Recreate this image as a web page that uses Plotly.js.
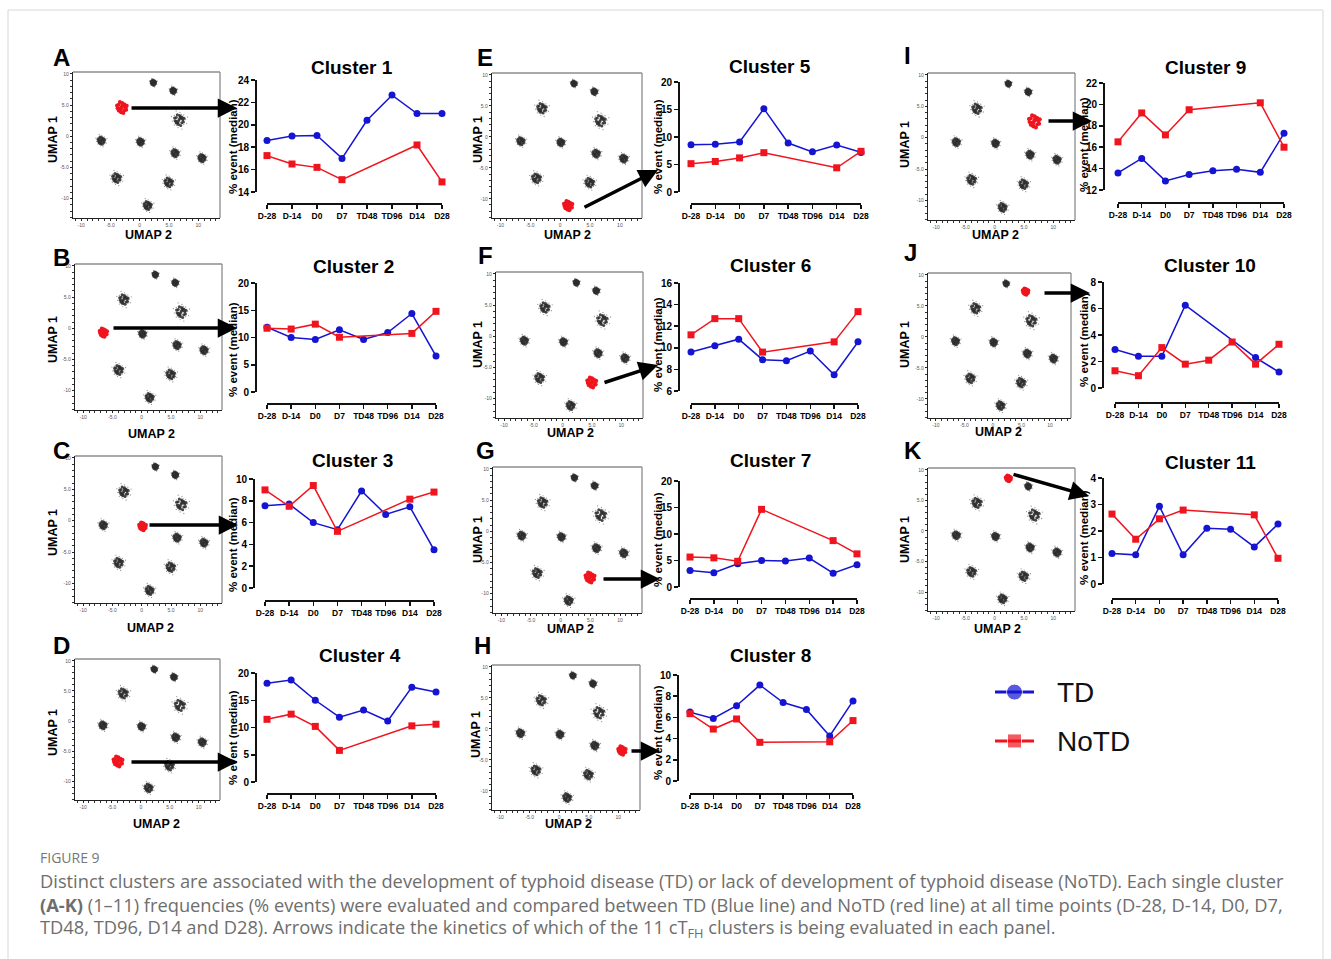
<!DOCTYPE html>
<html><head><meta charset="utf-8">
<script src="https://cdn.plot.ly/plotly-3.0.1.min.js"></script>
<style>html,body{margin:0;padding:0;background:#fff;}#chart{width:1331px;height:959px;}</style>
</head><body><div id="chart"></div>
<script>
// ---------------- DATA ----------------
const categories = ['D-28','D-14','D0','D7','TD48','TD96','D14','D28'];
const panelLetters = ['A','B','C','D','E','F','G','H','I','J','K'];
const clusterNames = ['Cluster 1','Cluster 2','Cluster 3','Cluster 4','Cluster 5','Cluster 6','Cluster 7','Cluster 8','Cluster 9','Cluster 10','Cluster 11'];
const seriesNames = ['TD','NoTD'];

// TD (blue) series, one per cluster
const tdC1  = [18.6, 19.0, 19.05, 17.0, 20.4, 22.65, 21.0, 21.0];
const tdC2  = [11.9, 10.0, 9.65, 11.4, 9.65, 10.9, 14.4, 6.6];
const tdC3  = [7.55, 7.7, 6.0, 5.35, 8.9, 6.75, 7.45, 3.5];
const tdC4  = [18.1, 18.7, 15.0, 11.9, 13.2, 11.2, 17.4, 16.5];
const tdC5  = [8.6, 8.7, 9.1, 15.15, 8.9, 7.3, 8.55, 7.2];
const tdC6  = [9.6, 10.2, 10.8, 8.9, 8.8, 9.7, 7.5, 10.55];
const tdC7  = [3.1, 2.7, 4.4, 5.0, 4.9, 5.45, 2.6, 4.2];
const tdC8  = [6.5, 5.9, 7.1, 9.05, 7.4, 6.75, 4.25, 7.55];
const tdC9  = [13.6, 14.95, 12.85, 13.45, 13.8, 13.95, 13.65, 17.3];
const tdC10 = [2.9, 2.4, 2.4, 6.25, null, null, 2.3, 1.2];
const tdC11 = [1.15, 1.1, 2.93, 1.1, 2.1, 2.07, 1.4, 2.26];

// NoTD (red) series, one per cluster
const notdC1  = [17.25, 16.5, 16.2, 15.1, null, null, 18.2, 14.9];
const notdC2  = [11.7, 11.55, 12.45, 10.05, null, null, 10.75, 14.8];
const notdC3  = [9.0, 7.5, 9.4, 5.2, null, null, 8.15, 8.8];
const notdC4  = [11.5, 12.45, 10.2, 5.8, null, null, 10.3, 10.6];
const notdC5  = [5.15, 5.55, 6.2, 7.15, null, null, 4.4, 7.4];
const notdC6  = [11.2, 12.7, 12.7, 9.6, null, null, 10.55, 13.35];
const notdC7  = [5.65, 5.5, 4.85, 14.65, null, null, 8.75, 6.25];
const notdC8  = [6.35, 4.9, 5.85, 3.65, null, null, 3.7, 5.7];
const notdC9  = [16.5, 19.2, 17.15, 19.5, null, null, 20.15, 16.0];
const notdC10 = [1.3, 0.93, 3.05, 1.8, 2.1, 3.47, 1.8, 3.3];
const notdC11 = [2.64, 1.69, 2.46, 2.79, null, null, 2.61, 0.97];

const tdSeries = [tdC1,tdC2,tdC3,tdC4,tdC5,tdC6,tdC7,tdC8,tdC9,tdC10,tdC11];
const notdSeries = [notdC1,notdC2,notdC3,notdC4,notdC5,notdC6,notdC7,notdC8,notdC9,notdC10,notdC11];

// y-axis tick labels of each cluster chart
const yTickMin  = [14, 0, 0, 0, 0, 6, 0, 0, 12, 0, 0];
const yTickMax  = [24, 20, 10, 20, 20, 16, 20, 10, 22, 8, 4];
const yTickStep = [2, 5, 2, 5, 5, 2, 5, 2, 2, 2, 1];

// UMAP: cluster island centres (UMAP 2, UMAP 1) and relative island sizes
const umapX = [2.3, 5.7, -3.1, 6.7, -6.6, 0.1, 6.0, 10.6, -4.0, 4.9, 1.3];
const umapY = [8.6, 7.3, 4.6, 2.6, -0.7, -0.9, -2.7, -3.5, -6.7, -7.4, -11.1];
const islandSize = [0.45, 0.5, 0.85, 0.95, 0.65, 0.6, 0.65, 0.65, 0.8, 0.78, 0.72];
// which island is highlighted for cluster 1..11
const clusterIsland = [2, 4, 5, 8, 10, 9, 9, 7, 3, 1, 0];
// island shape (offsets of dots inside an island)
const blobDx = [0, 0.45, -0.45, 0.25, -0.25, 0.7, -0.7, 0.1, -0.1, 0.5, -0.5, 0.5, -0.5, 0.9, -0.3, 0.3, 0.8, -0.8, 0.15, -0.15];
const blobDy = [0, 0.25, -0.2, 0.55, -0.55, 0.05, -0.1, 0.75, -0.75, 0.5, 0.45, -0.45, -0.5, 0.3, 0.9, -0.9, -0.35, 0.35, 0.3, -0.3];
const umapTicks = [-10, -5, 0, 5, 10];
const umapTickText = ['-10', '-5.0', '0', '5.0', '10'];

// ---------------- LAYOUT GEOMETRY (pixels) ----------------
const W = 1331, H = 959;
const px = x => x / W, py = y => 1 - y / H;
const geo = [
 {l:[62,57],  ub:[73,72,220,218],   u1:[53,140], u2:[148,235], yx:255, yt:80,  yb:192, xa:203, x0:267, x1:442, tt:[352,67],  yl:[233,147], ar:[130,108,237,108]},
 {l:[62,257], ub:[75,264,222,410],  u1:[53,340], u2:[151,434], yx:255, yt:283, yb:392, xa:403, x0:267, x1:436, tt:[353,266], yl:[233,350], ar:[112,328,237,328]},
 {l:[62,450], ub:[75,456,222,603],  u1:[53,533], u2:[150,628], yx:253, yt:479, yb:588, xa:600, x0:265, x1:434, tt:[352,461], yl:[233,545], ar:[148,525,238,525]},
 {l:[62,645], ub:[75,659,220,800],  u1:[53,733], u2:[156,824], yx:255, yt:673, yb:782, xa:793, x0:267, x1:436, tt:[360,655], yl:[233,738], ar:[130,762,237,762]},
 {l:[485,57], ub:[492,73,642,218],  u1:[478,140],u2:[567,235], yx:678, yt:82,  yb:192, xa:203, x0:691, x1:861, tt:[770,66],  yl:[658,147], ar:[583,208,658,170]},
 {l:[485,255],ub:[496,272,643,418], u1:[478,345],u2:[570,433], yx:678, yt:283, yb:391, xa:403, x0:691, x1:858, tt:[770,265], yl:[658,345], ar:[603,383,658,365]},
 {l:[485,450],ub:[493,467,642,613], u1:[478,540],u2:[570,629], yx:678, yt:481, yb:587, xa:598, x0:690, x1:857, tt:[770,461], yl:[658,540], ar:[602,579,660,579]},
 {l:[482,645],ub:[492,665,640,810], u1:[476,735],u2:[568,824], yx:677, yt:675, yb:781, xa:793, x0:690, x1:853, tt:[770,655], yl:[658,733], ar:[630,751,660,751]},
 {l:[907,55], ub:[928,73,1075,220], u1:[905,145],u2:[995,235], yx:1103,yt:83,  yb:190, xa:202, x0:1118,x1:1284,tt:[1205,67], yl:[1084,145], ar:[1047,121,1092,121]},
 {l:[910,252],ub:[928,273,1071,418],u1:[905,345],u2:[998,432], yx:1102,yt:282, yb:388, xa:402, x0:1115,x1:1279,tt:[1210,265],yl:[1084,340], ar:[1043,293,1090,293]},
 {l:[913,450],ub:[928,468,1075,611],u1:[905,540],u2:[997,629], yx:1102,yt:478, yb:584, xa:598, x0:1112,x1:1278,tt:[1210,462],yl:[1084,538], ar:[1012,474,1089,496]}
];
const legendPos = {x0:995, x1:1034, y:[692, 741], tx:1055};

const BLUE = '#1414d2', RED = '#f0141e';
const FONT = 'Liberation Sans, Arial, sans-serif';
const traces = [], annotations = [], shapes = [];
const layout = {
  width: W, height: H, margin:{l:0,r:0,t:0,b:0},
  paper_bgcolor:'#fff', plot_bgcolor:'rgba(0,0,0,0)', showlegend:false,
  font:{family:FONT, color:'#000'}
};

function range(a, b, s){ const r=[]; for(let v=a; v<=b+1e-9; v+=s) r.push(+v.toFixed(6)); return r; }

for (let i = 0; i < 11; i++) {
  const g = geo[i];
  const ua = 2*i + 1, ca = 2*i + 2;
  const uX = 'x'+ua, uY = 'y'+ua, cX = 'x'+ca, cY = 'y'+ca;

  // ---- UMAP islands ----
  const red = clusterIsland[i];
  const gx = [], gy = [], hx = [], hy = [], rx = [], ry = [];
  for (let k = 0; k < umapX.length; k++) {
    const s = islandSize[k];
    for (let j = 0; j < blobDx.length; j++) {
      if (k === red) {
        rx.push(umapX[k] + blobDx[j]*s*1.15); ry.push(umapY[k] + blobDy[j]*s*1.15);
      } else {
        gx.push(umapX[k] + blobDx[j]*s); gy.push(umapY[k] + blobDy[j]*s);
        hx.push(umapX[k] + blobDx[j]*s*1.7); hy.push(umapY[k] + blobDy[j]*s*1.7);
      }
    }
  }
  traces.push({type:'scatter', mode:'markers', x:hx, y:hy, xaxis:uX, yaxis:uY, hoverinfo:'skip',
    marker:{size:1.3, color:'#9a9a9a'}});
  traces.push({type:'scatter', mode:'markers', x:gx, y:gy, xaxis:uX, yaxis:uY, hoverinfo:'skip',
    marker:{size:3, color:'#2e2e2e', opacity:0.88}});
  traces.push({type:'scatter', mode:'markers', x:rx, y:ry, xaxis:uX, yaxis:uY, hoverinfo:'skip',
    marker:{size:4, color:RED}});

  const umapAx = {showgrid:false, zeroline:false, showline:true, linecolor:'#222', linewidth:1.2,
    ticks:'outside', ticklen:2, tickwidth:1, tickcolor:'#222', tickmode:'array', tickangle:0,
    tickvals:umapTicks, ticktext:umapTickText, tickfont:{size:5, color:'#555', family:FONT},
    minor:{tickmode:'linear', tick0:0, dtick:1, ticks:'outside', ticklen:2, tickcolor:'#333'}, fixedrange:true};
  layout['xaxis'+ua] = Object.assign({}, umapAx, {domain:[px(g.ub[0]), px(g.ub[2])], anchor:uY, range:[-11.4, 13.7]});
  layout['yaxis'+ua] = Object.assign({}, umapAx, {domain:[py(g.ub[3]), py(g.ub[1])], anchor:uX, range:[-13.1, 10.3]});
  shapes.push({type:'line', xref:uX+' domain', yref:uY+' domain', x0:0, x1:1, y0:1, y1:1, line:{color:'#8c8c8c', width:1.3}});
  shapes.push({type:'line', xref:uX+' domain', yref:uY+' domain', x0:1, x1:1, y0:0, y1:1, line:{color:'#8c8c8c', width:1.3}});

  // ---- cluster line chart ----
  const xi = categories.map((c, j) => j);
  traces.push({type:'scatter', mode:'lines+markers', name:seriesNames[0], x:xi, y:tdSeries[i], xaxis:cX, yaxis:cY,
    connectgaps:true, cliponaxis:false, line:{color:BLUE, width:1.5}, marker:{symbol:'circle', size:7, color:BLUE}});
  traces.push({type:'scatter', mode:'lines+markers', name:seriesNames[1], x:xi, y:notdSeries[i], xaxis:cX, yaxis:cY,
    connectgaps:true, cliponaxis:false, line:{color:RED, width:1.5}, marker:{symbol:'square', size:7, color:RED}});

  layout['xaxis'+ca] = {domain:[px(g.x0), px(g.x1)], anchor:'free', position:py(g.xa), range:[0,7],
    tickmode:'array', tickvals:xi, ticktext:categories, tickangle:0, ticks:'outside', ticklen:4, tickwidth:1.5, tickcolor:'#111',
    showline:true, linecolor:'#111', linewidth:1.5, showgrid:false, zeroline:false, fixedrange:true,
    tickfont:{family:FONT, size:8.5, weight:'bold', color:'#000'}};
  layout['yaxis'+ca] = {domain:[py(g.yb), py(g.yt)], anchor:'free', position:px(g.yx),
    range:[yTickMin[i], yTickMax[i]], tickmode:'array', tickvals:range(yTickMin[i], yTickMax[i], yTickStep[i]),
    ticks:'outside', ticklen:4, tickwidth:1.5, tickcolor:'#111', showline:true, linecolor:'#111', linewidth:1.5,
    showgrid:false, zeroline:false, fixedrange:true, tickfont:{family:FONT, size:10, weight:'bold', color:'#000'}};

  // ---- texts ----
  annotations.push({text:'<b>'+panelLetters[i]+'</b>', x:px(g.l[0]), y:py(g.l[1]), xref:'paper', yref:'paper',
    showarrow:false, xanchor:'center', yanchor:'middle', font:{size:24, family:FONT, color:'#000'}});
  annotations.push({text:'<b>UMAP 1</b>', x:px(g.u1[0]), y:py(g.u1[1]), xref:'paper', yref:'paper', textangle:-90,
    showarrow:false, xanchor:'center', yanchor:'middle', font:{size:12.5, family:FONT, color:'#000'}});
  annotations.push({text:'<b>UMAP 2</b>', x:px(g.u2[0]), y:py(g.u2[1]), xref:'paper', yref:'paper',
    showarrow:false, xanchor:'center', yanchor:'middle', font:{size:12.5, family:FONT, color:'#000'}});
  annotations.push({text:'<b>'+clusterNames[i]+'</b>', x:px(g.tt[0]), y:py(g.tt[1]), xref:'paper', yref:'paper',
    showarrow:false, xanchor:'center', yanchor:'middle', font:{size:19, family:FONT, color:'#000'}});
  annotations.push({text:'<b>% event (median)</b>', x:px(g.yl[0]), y:py(g.yl[1]), xref:'paper', yref:'paper', textangle:-90,
    showarrow:false, xanchor:'center', yanchor:'middle', font:{size:11.5, family:FONT, color:'#000'}});
  annotations.push({text:'', x:px(g.ar[2]), y:py(g.ar[3]), xref:'paper', yref:'paper',
    ax:g.ar[0]-g.ar[2], ay:g.ar[1]-g.ar[3], axref:'pixel', ayref:'pixel', showarrow:true,
    arrowhead:2, arrowsize:1.1, arrowwidth:3.5, arrowcolor:'#000', standoff:0});
}

// ---------------- legend (own small axes) ----------------
layout.xaxis23 = {domain:[px(legendPos.x0), px(legendPos.x1)], anchor:'y23', range:[0,1], visible:false, fixedrange:true};
layout.yaxis23 = {domain:[py(760), py(675)], anchor:'x23', range:[-0.39, 1.35], visible:false, fixedrange:true};
const legendY = [1, 0];
const legendColor = [BLUE, RED], legendSymbol = ['circle','square'], legendSize = [16, 14];
for (let k = 0; k < 2; k++) {
  traces.push({type:'scatter', mode:'lines+markers', x:[0,0.5,1], y:[legendY[k],legendY[k],legendY[k]],
    xaxis:'x23', yaxis:'y23', hoverinfo:'skip', cliponaxis:false,
    line:{color:legendColor[k], width:3}, marker:{symbol:legendSymbol[k], size:[0,legendSize[k],0], color:legendColor[k]}});
  annotations.push({text:seriesNames[k], x:px(legendPos.tx), y:py(legendPos.y[k]), xref:'paper', yref:'paper', showarrow:false,
    xanchor:'left', yanchor:'middle', font:{size:28, family:FONT, color:'#111'}});
}

// ---------------- caption ----------------
const capFont = {family:'Open Sans, Liberation Sans, sans-serif', size:18.3, color:'#6e6e6e'};
annotations.push({text:'FIGURE 9', x:px(38), y:py(857), xref:'paper', yref:'paper', showarrow:false,
  xanchor:'left', yanchor:'middle', font:{family:'Open Sans, sans-serif', size:14, color:'#777'}});
const captionLines = [
  'Distinct clusters are associated with the development of typhoid disease (TD) or lack of development of typhoid disease (NoTD). Each single cluster',
  '<b>(A-K)</b> (1–11) frequencies (% events) were evaluated and compared between TD (Blue line) and NoTD (red line) at all time points (D-28, D-14, D0, D7,',
  'TD48, TD96, D14 and D28). Arrows indicate the kinetics of which of the 11 cT<sub>FH</sub> clusters is being evaluated in each panel.'
];
const captionY = [880, 904, 928];
captionLines.forEach((t, k) => annotations.push({text:t, x:px(38), y:py(captionY[k]), xref:'paper', yref:'paper',
  showarrow:false, xanchor:'left', yanchor:'middle', align:'left', font:capFont}));

// frame
shapes.push({type:'rect', xref:'paper', yref:'paper', x0:px(8), x1:px(1323), y0:py(975), y1:py(10), line:{color:'#d8d8d8', width:1}});

layout.annotations = annotations;
layout.shapes = shapes;
Plotly.newPlot('chart', traces, layout, {staticPlot:true, displayModeBar:false});
</script></body></html>
